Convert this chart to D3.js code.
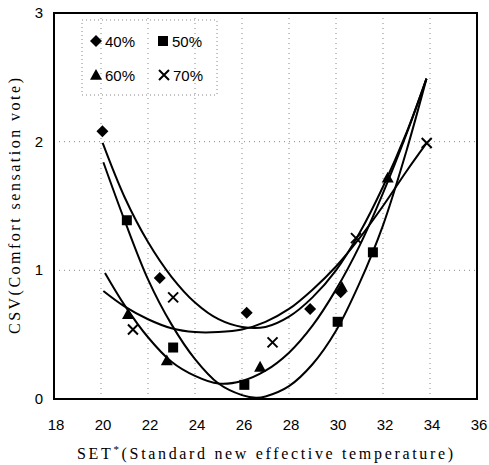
<!DOCTYPE html>
<html>
<head>
<meta charset="utf-8">
<script src="https://cdn.jsdelivr.net/npm/d3@7"></script>
<style>
  body { margin: 0; background: #fff; }
  svg { display: block; }
</style>
</head>
<body>
<svg id="chart" width="489" height="465"></svg>
<script>
// x / y ticks
var xTicks = [18, 20, 22, 24, 26, 28, 30, 32, 34, 36];
var yTicks = [0, 1, 2, 3];

// measured points, [SET*, CSV]
var rh40 = [[20.06, 2.08], [22.5, 0.94], [26.2, 0.67], [28.9, 0.70], [30.2, 0.83]];
var rh50 = [[21.1, 1.39], [23.07, 0.40], [26.1, 0.11], [30.07, 0.60], [31.57, 1.14]];
var rh60 = [[21.15, 0.66], [22.8, 0.30], [26.77, 0.25], [30.25, 0.87], [32.2, 1.72]];
var rh70 = [[21.36, 0.54], [23.07, 0.79], [27.3, 0.44], [30.85, 1.25], [33.86, 1.99]];

// trend curves
var fit40 = [[20.07, 1.99], [21, 1.57], [22, 1.22], [23, 0.95], [24, 0.75], [25, 0.62], [26, 0.56], [27, 0.56],
             [28, 0.64], [29, 0.79], [30, 1.00], [31, 1.29], [32, 1.65], [33, 2.07], [33.85, 2.49]];
var fit50 = [[20.1, 1.84], [21, 1.39], [22, 0.93], [23, 0.58], [24, 0.31], [25, 0.12], [26, 0.03], [26.6, 0.01],
             [27, 0.02], [28, 0.10], [29, 0.27], [30, 0.53], [31, 0.90], [32, 1.35], [33, 1.93], [33.85, 2.49]];
var fit60 = [[20.17, 0.98], [21, 0.73], [22, 0.48], [23, 0.29], [24, 0.18], [25, 0.12], [26, 0.14], [27, 0.22],
             [28, 0.36], [29, 0.57], [30, 0.85], [31, 1.19], [32, 1.60], [33, 2.06], [33.85, 2.49]];
var fit70 = [[20.1, 0.84], [21, 0.72], [22, 0.62], [23, 0.55], [24, 0.52], [25, 0.52], [26, 0.54], [27, 0.60],
             [28, 0.70], [29, 0.85], [30, 1.03], [31, 1.25], [32, 1.50], [33, 1.77], [33.86, 1.99]];

var series = [
    {name: "40%", symbol: "diamond", pts: rh40, fit: fit40},
    {name: "50%", symbol: "square", pts: rh50, fit: fit50},
    {name: "60%", symbol: "triangle", pts: rh60, fit: fit60},
    {name: "70%", symbol: "cross", pts: rh70, fit: fit70}
];

var svg = d3.select("#chart");
var plotL = 54, plotR = 477, plotT = 13, plotB = 399;

var x = d3.scaleLinear().domain([18, 36]).range([plotL, plotR]);
var y = d3.scaleLinear().domain([0, 3]).range([plotB, plotT]);

// dotted grid
svg.append("g").selectAll("line")
    .data(xTicks.slice(1, -1))
    .enter().append("line")
    .attr("x1", function(d){ return x(d); })
    .attr("x2", function(d){ return x(d); })
    .attr("y1", plotT).attr("y2", plotB)
    .style("stroke", "#888").style("stroke-width", 1).style("stroke-dasharray", "1 4");
svg.append("g").selectAll("line")
    .data(yTicks.slice(1, -1))
    .enter().append("line")
    .attr("x1", plotL).attr("x2", plotR)
    .attr("y1", function(d){ return y(d); })
    .attr("y2", function(d){ return y(d); })
    .style("stroke", "#888").style("stroke-width", 1).style("stroke-dasharray", "1 4");

// tick labels
svg.append("g").selectAll("text")
    .data(xTicks)
    .enter().append("text")
    .attr("x", function(d){ return x(d) + 2; })
    .attr("y", 430)
    .attr("text-anchor", "middle")
    .style("font-family", "Liberation Sans, Arial, sans-serif")
    .style("font-size", "15px")
    .text(function(d){ return d; });
svg.append("g").selectAll("text")
    .data(yTicks)
    .enter().append("text")
    .attr("x", 43)
    .attr("y", function(d){ return y(d) + 5; })
    .attr("text-anchor", "end")
    .style("font-family", "Liberation Sans, Arial, sans-serif")
    .style("font-size", "15px")
    .text(function(d){ return d; });

// curves
var line = d3.line()
    .x(function(d){ return x(d[0]); })
    .y(function(d){ return y(d[1]); })
    .curve(d3.curveCatmullRom);
svg.append("g").selectAll("path")
    .data(series)
    .enter().append("path")
    .attr("d", function(s){ return line(s.fit); })
    .style("fill", "none").style("stroke", "#000").style("stroke-width", 2);

/**
 * draw one marker at px,py
 */
function drawMarker(g, sym, px, py){
    var r = 5, d;
    if(sym === "cross"){
        g.append("path")
            .attr("d", "M" + (px - r) + "," + (py - r) + "L" + (px + r) + "," + (py + r) +
                       "M" + (px - r) + "," + (py + r) + "L" + (px + r) + "," + (py - r))
            .style("stroke", "#000").style("stroke-width", 2).style("fill", "none");
        return;
    }
    if(sym === "diamond"){
        r = 6;
        d = "M" + px + "," + (py - r) + "L" + (px + r) + "," + py + "L" + px + "," + (py + r) + "L" + (px - r) + "," + py + "Z";
    }else if(sym === "square"){
        r = 5;
        d = "M" + (px - r) + "," + (py - r) + "h" + (2 * r) + "v" + (2 * r) + "h" + (-2 * r) + "Z";
    }else{
        r = 6;
        d = "M" + px + "," + (py - r) + "L" + (px + r) + "," + (py + r * 0.8) + "L" + (px - r) + "," + (py + r * 0.8) + "Z";
    }
    g.append("path").attr("d", d).style("fill", "#000");
}

var marks = svg.append("g");
series.forEach(function(s){
    s.pts.forEach(function(p){
        drawMarker(marks, s.symbol, x(p[0]), y(p[1]));
    });
});

// frame
svg.append("rect")
    .attr("x", plotL).attr("y", plotT)
    .attr("width", plotR - plotL).attr("height", plotB - plotT)
    .style("fill", "none").style("stroke", "#000").style("stroke-width", 2);

// legend
var lg = svg.append("g");
lg.append("rect")
    .attr("x", 82).attr("y", 20).attr("width", 135).attr("height", 75)
    .style("fill", "none").style("stroke", "#888").style("stroke-width", 1).style("stroke-dasharray", "1 3");
var legendPos = [[96, 41], [163, 41], [96, 75], [164, 75]];
series.forEach(function(s, i){
    var p = legendPos[i];
    drawMarker(lg, s.symbol, p[0], p[1]);
    lg.append("text")
        .attr("x", p[0] + 9).attr("y", p[1] + 6)
        .style("font-family", "Liberation Sans, Arial, sans-serif")
        .style("font-size", "15px")
        .text(s.name);
});

// axis titles
svg.append("text")
    .attr("transform", "translate(20,206) rotate(-90)")
    .attr("text-anchor", "middle")
    .attr("textLength", 256).attr("lengthAdjust", "spacing")
    .style("font-family", "Liberation Serif, Times New Roman, serif")
    .style("font-size", "16px")
    .text("CSV(Comfort sensation vote)");
var xt = svg.append("text")
    .attr("x", 77).attr("y", 459)
    .attr("textLength", 376).attr("lengthAdjust", "spacing")
    .style("font-family", "Liberation Serif, Times New Roman, serif")
    .style("font-size", "16px");
xt.append("tspan").text("SET");
xt.append("tspan").attr("dy", -6).style("font-size", "11px").text("*");
xt.append("tspan").attr("dy", 6).text("(Standard new effective temperature)");
</script>
</body>
</html>
